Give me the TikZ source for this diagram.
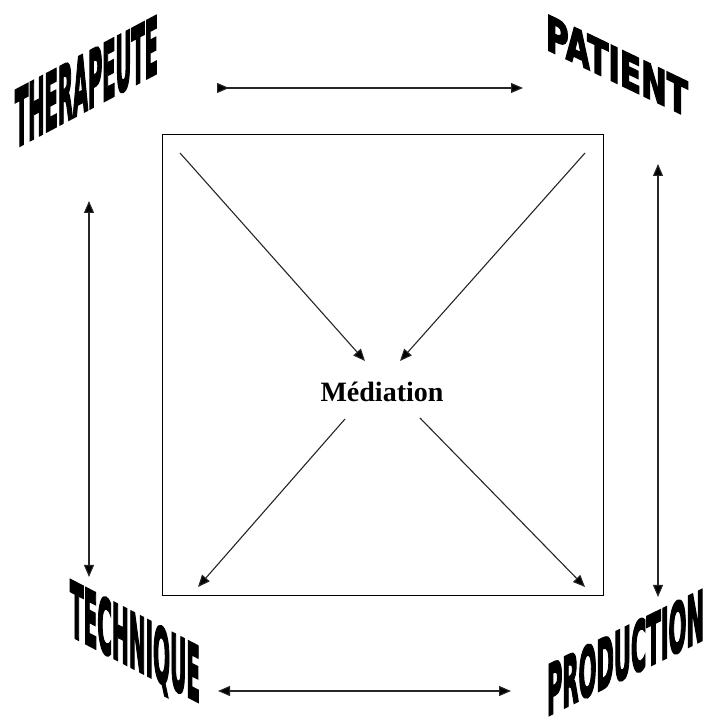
\documentclass[tikz,border=0pt]{standalone}
\usepackage{fontspec}
\setmainfont{Liberation Serif}
\newfontfamily\wafont[FakeBold=4]{DejaVu Sans}
\usetikzlibrary{arrows.meta}
\tikzset{
  conn/.style={line width=1.1pt, draw=black!85},
  tipb/.style={-{Triangle[length=12pt,width=10pt,fill=black]}},
  dbl/.style={{Triangle[length=12pt,width=10pt,fill=black]}-{Triangle[length=12pt,width=10pt,fill=black]}},
  wa/.style={anchor=base west, inner sep=0pt, outer sep=0pt},
  box/.style={draw=black, line width=1.1pt}
}
\newcommand{\watext}[3]{\resizebox{#1pt}{#2pt}{\wafont\bfseries #3}}
\begin{document}
\begin{tikzpicture}[x=1pt,y=1pt]
\useasboundingbox (0,0) rectangle (713,725);
% central box
\node[box, minimum width=441pt, minimum height=461pt, inner sep=0pt, anchor=south west] (frame) at (162,129) {};
\node[font=\bfseries\fontsize{28}{30}\selectfont] (med) at (382,333) {Médiation};
% corner labels
\node[wa, yslant=0.53] (ther) at (15,577) {\watext{143}{57}{THERAPEUTE}};
\node[wa, yslant=-0.48] (pat) at (546,676) {\watext{142}{35}{PATIENT}};
\node[wa, yslant=-0.52] (tech) at (70,90) {\watext{130}{56}{TECHNIQUE}};
\node[wa, yslant=0.49] (prod) at (547,9) {\watext{157}{51}{PRODUCTION}};
% connector end points
\coordinate (t1) at (217,637); \coordinate (t2) at (523,637);
\coordinate (b1) at (218,34);  \coordinate (b2) at (511,34);
\coordinate (l1) at (89,524);  \coordinate (l2) at (89,148);
\coordinate (r1) at (658,561); \coordinate (r2) at (658,128);
\coordinate (d1s) at (180,572); \coordinate (d1e) at (365,364);
\coordinate (d2s) at (585,572); \coordinate (d2e) at (400,364);
\coordinate (d3s) at (345,306); \coordinate (d3e) at (198,138);
\coordinate (d4s) at (420,307); \coordinate (d4e) at (585,138);
% outer arrows
\draw[conn, {Triangle[reversed,length=12pt,width=10pt,fill=black]}-{Triangle[length=12pt,width=10pt,fill=black]}] (t1) -- (t2);
\draw[conn, dbl] (b1) -- (b2);
\draw[conn, dbl] (l1) -- (l2);
\draw[conn, dbl] (r1) -- (r2);
% diagonals
\draw[conn, tipb] (d1s) -- (d1e);
\draw[conn, tipb] (d2s) -- (d2e);
\draw[conn, tipb] (d3s) -- (d3e);
\draw[conn, tipb] (d4s) -- (d4e);
\end{tikzpicture}
\end{document}
